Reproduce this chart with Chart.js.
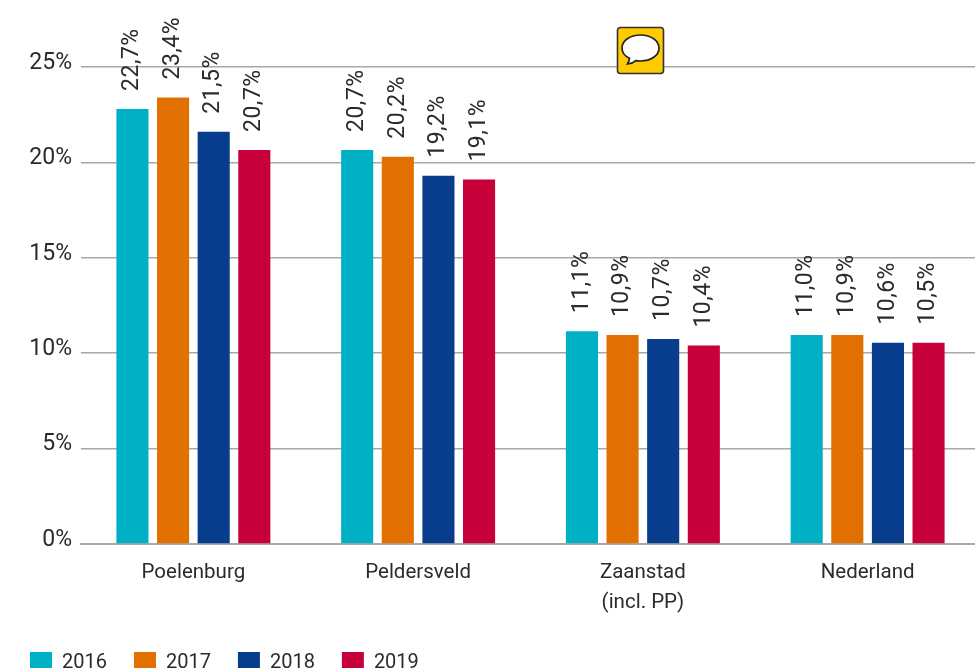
<!DOCTYPE html>
<html><head><meta charset="utf-8">
<script src="https://cdn.jsdelivr.net/npm/chart.js@4"></script>
<style>
html,body{margin:0;padding:0;background:#fff;overflow:hidden;width:975px;height:668px}
#wrap{position:relative;width:975px;height:668px;overflow:hidden}
canvas{position:absolute;left:0;top:0}
svg{position:absolute;left:616px;top:26px}
</style></head><body>
<div id="wrap">
<canvas id="c" width="985" height="684" style="width:985px;height:684px"></canvas>
<svg width="49" height="49" viewBox="0 0 49 49">
<rect x="1.5" y="1.5" width="46" height="46" rx="3" fill="#fecb00" stroke="#333" stroke-width="1.6"/>
<path d="M24.5 9C14 9 6 14.500 6 22c0 4.500 3 8.200 7.500 10.300-.3 2-1 4-2 5.700 3.300-.2 6.200-1.500 8.300-3.400 1.500.3 3 .4 4.700.4C35 35 43 29.500 43 22S35 9 24.500 9z" fill="#fff" stroke="#222" stroke-width="1.7"/>
</svg>
</div>
<script>
const categories = [["Poelenburg"],["Peldersveld"],["Zaanstad","(incl. PP)"],["Nederland"]];
const years = ["2016","2017","2018","2019"];
const colors = ["#00b0c4","#e27000","#073d8c","#c60038"];
const bars2016 = [22.8,20.65,11.15,10.95];
const bars2017 = [23.4,20.3,10.95,10.95];
const bars2018 = [21.6,19.3,10.75,10.55];
const bars2019 = [20.65,19.1,10.4,10.55];
const labels2016 = ["22,7%","20,7%","11,1%","11,0%"];
const labels2017 = ["23,4%","20,2%","10,9%","10,9%"];
const labels2018 = ["21,5%","19,2%","10,7%","10,6%"];
const labels2019 = ["20,7%","19,1%","10,4%","10,5%"];
const yTicks = [0,5,10,15,20,25];
const FONT = "Roboto, sans-serif";

const seriesBars = [bars2016,bars2017,bars2018,bars2019];
const seriesLabels = [labels2016,labels2017,labels2018,labels2019];

const valueLabels = {
  id:'valueLabels',
  afterDatasetsDraw(chart){
    const ctx = chart.ctx;
    chart.data.datasets.forEach((ds,i)=>{
      chart.getDatasetMeta(i).data.forEach((el,j)=>{
        ctx.save();
        ctx.translate(el.x, el.y-18);
        ctx.rotate(-Math.PI/2);
        ctx.font = "23px "+FONT;
        ctx.letterSpacing = "0.5px";
        ctx.fillStyle = "#2b2b2b";
        ctx.textAlign = "left";
        ctx.textBaseline = "middle";
        ctx.fillText(seriesLabels[i][j],0,0);
        ctx.restore();
      });
    });
  }
};

new Chart(document.getElementById('c'),{
  type:'bar',
  data:{
    labels:categories,
    datasets:years.map((y,i)=>({
      label:y,
      data:seriesBars[i],
      backgroundColor:colors[i],
      categoryPercentage:0.723,
      barPercentage:0.79
    }))
  },
  options:{
    responsive:false,
    animation:false,
    layout:{padding:{top:67,left:3,right:5,bottom:0}},
    plugins:{
      tooltip:{enabled:false},
      legend:{
        position:'bottom',
        align:'start',
        onClick:null,
        labels:{boxWidth:22,boxHeight:22,padding:27,color:"#2b2b2b",font:{family:FONT,size:20}}
      }
    },
    scales:{
      x:{
        afterFit(s){s.height=81;},
        grid:{display:false},
        border:{color:"#a8a8a8",width:2},
        ticks:{color:"#2b2b2b",font:{family:FONT,size:20.5,lineHeight:1.45},maxRotation:0,padding:6}
      },
      y:{
        min:0,max:25,
        afterBuildTicks(s){s.ticks=yTicks.map(v=>({value:v}));},
        afterFit(s){s.width=78;},
        grid:{color:"#a8a8a8",lineWidth:1.6,drawTicks:false},
        border:{display:false},
        ticks:{color:"#2b2b2b",font:{family:FONT,size:23},padding:9,labelOffset:-4,callback:v=>v+"%"}
      }
    }
  },
  plugins:[valueLabels]
});
</script>
</body></html>
